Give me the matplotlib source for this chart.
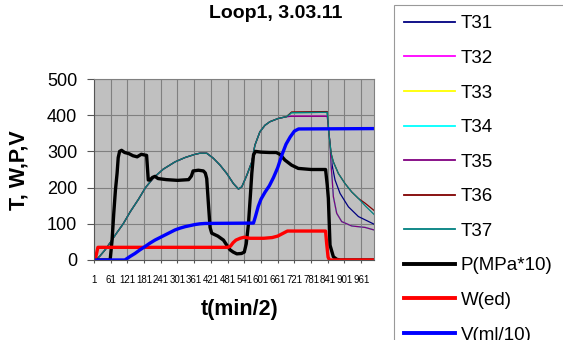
import matplotlib
matplotlib.use("Agg")
import matplotlib.pyplot as plt
from matplotlib.lines import Line2D

plt.rcParams['font.family'] = ['Liberation Sans', 'DejaVu Sans']

# time axis: category index (chart shows labels 1, 61, 121, ...)
tick_pos = list(range(0, 961, 60))
tick_labels = [str(p + 1) for p in tick_pos]
x_end = 1006

# temperatures (t, value)
T_rise = [(5, 0), (20, 10), (40, 28), (60, 50), (80, 73), (105, 100), (130, 133),
          (160, 168), (185, 200), (215, 228), (249, 251), (291, 271), (327, 283),
          (363, 292), (381, 295), (405, 295), (429, 281), (453, 262), (477, 239),
          (501, 211), (519, 196), (531, 202), (549, 234), (567, 271), (578, 317),
          (596, 354), (614, 372), (632, 382), (662, 391), (692, 396)]
T_top_hi = [(710, 407), (838, 408), (841, 380), (844, 350), (848, 322)]
T_top_lo = [(710, 397), (838, 397), (841, 375), (844, 350), (848, 322)]
T_tail_slow = [(852, 294), (860, 271), (878, 239), (902, 211), (926, 188),
               (950, 170), (974, 154), (1006, 132)]
T_tail_mid = [(852, 285), (856, 260), (866, 221), (884, 184), (914, 147),
              (950, 120), (1006, 99)]
T_tail_fast = [(852, 260), (856, 220), (860, 175), (872, 129), (890, 106),
               (926, 94), (974, 90), (1006, 83)]

T31 = T_rise + T_top_hi + T_tail_mid
T32 = T_rise + T_top_lo + T_tail_fast
T33 = T_rise + T_top_hi + T_tail_fast
T34 = T_rise + T_top_hi + T_tail_fast
T35 = T_rise + T_top_lo + T_tail_fast
T36 = T_rise + [(710, 409), (838, 410), (841, 380), (844, 350), (848, 322)] + \
      T_tail_slow[:-2] + [(974, 157), (1006, 137)]
T37 = T_rise + T_top_hi + T_tail_slow[:-2] + [(974, 150), (1006, 126)]

# pressure (MPa*10)
P = [(0, 0), (58, 0), (65, 55), (71, 129), (77, 193), (83, 240), (87, 283), (92, 300),
     (99, 303), (110, 297), (125, 294), (140, 288), (155, 285), (170, 292), (182, 290),
     (189, 289), (195, 221), (201, 221), (210, 228), (219, 231), (230, 225), (260, 222),
     (300, 220), (340, 222), (350, 232), (356, 246), (375, 248), (393, 246), (400, 240),
     (405, 225), (411, 156), (417, 90), (423, 74), (445, 66), (465, 55), (477, 41),
     (489, 28), (500, 22), (513, 17), (530, 18), (540, 22), (547, 45), (555, 100),
     (562, 180), (567, 240), (573, 290), (580, 300), (600, 298), (630, 297), (655, 297),
     (668, 292), (686, 276), (710, 262), (734, 253), (780, 250), (832, 250), (838, 207),
     (842, 170), (848, 41), (860, 9), (872, 2), (884, 0), (1006, 0)]

# power W(ed)
W = [(0, 0), (4, 0), (14, 35), (480, 35), (490, 38), (500, 48), (510, 55), (525, 60),
     (540, 63), (560, 60), (610, 60), (640, 62), (660, 66), (680, 74), (695, 80),
     (832, 80), (836, 45), (841, 8), (846, 0), (1006, 0)]

# volume (ml/10)
V = [(0, 0), (111, 0), (130, 10), (147, 18), (165, 28), (183, 37), (200, 46), (219, 55),
     (237, 62), (255, 69), (273, 76), (291, 83), (309, 88), (327, 92), (345, 95),
     (363, 98), (381, 100), (399, 101), (573, 102), (580, 120), (590, 148), (600, 168),
     (615, 188), (630, 205), (645, 228), (660, 255), (675, 290), (690, 320), (705, 340),
     (720, 356), (735, 362), (1006, 363)]

series = [("T31", T31, "#000080", 0.9), ("T32", T32, "#FF00FF", 0.9),
          ("T33", T33, "#FFFF00", 0.9), ("T34", T34, "#00FFFF", 0.9),
          ("T35", T35, "#800080", 0.9), ("T36", T36, "#800000", 0.9),
          ("T37", T37, "#008080", 0.9), ("P(MPa*10)", P, "black", 2.4),
          ("W(ed)", W, "red", 2.4), ("V(ml/10)", V, "blue", 2.4)]

fig = plt.figure(figsize=(5.63, 3.40), dpi=100)
ax = fig.add_axes([94 / 563, 80 / 340, 280 / 563, 181 / 340])
ax.set_facecolor("#C0C0C0")

handles = []
for name, pts, col, lw in series:
    xs = [p[0] for p in pts]
    ys = [p[1] for p in pts]
    ax.plot(xs, ys, color=col, lw=lw, solid_joinstyle="round")
    handles.append(Line2D([], [], color=col, lw=lw + 0.4))

ax.set_xlim(0, x_end)
ax.set_ylim(0, 500)
ax.set_yticks(range(0, 501, 100))
ax.set_xticks(tick_pos)
ax.set_xticklabels(tick_labels, fontsize=7)
ax.tick_params(axis="y", labelsize=13, length=5, width=0.8, pad=7, color="#555555")
ax.tick_params(axis="x", length=2.5, width=0.8, pad=8, color="#555555")
ax.grid(True, color="#808080", lw=0.8)
ax.set_axisbelow(True)
for s in ["top", "right"]:
    ax.spines[s].set_color("#808080")
for s in ["left", "bottom"]:
    ax.spines[s].set_color("#555555")

fig.text(276 / 563, 1 - 14 / 340, "Loop1, 3.03.11", fontsize=14, fontweight="bold",
         ha="center", va="center")
fig.text(19 / 563, 170 / 340, "T, W,P,V", fontsize=15.5, fontweight="bold",
         rotation=90, ha="center", va="center")
fig.text(240 / 563, 1 - 309 / 340, "t(min/2)", fontsize=15.5, fontweight="bold",
         ha="center", va="center")

leg = fig.legend(handles, [s[0] for s in series], loc="upper left", mode="expand",
                 bbox_to_anchor=(394 / 563, 1 - 5 / 340, 185 / 563, 0),
                 bbox_transform=fig.transFigure,
                 fontsize=13.5, frameon=True, fancybox=False, edgecolor="#808080",
                 handlelength=2.7, handletextpad=0.3, labelspacing=0.93,
                 borderpad=0.55, borderaxespad=0)
leg.get_frame().set_linewidth(0.8)

fig.savefig("out.png", dpi=100)
